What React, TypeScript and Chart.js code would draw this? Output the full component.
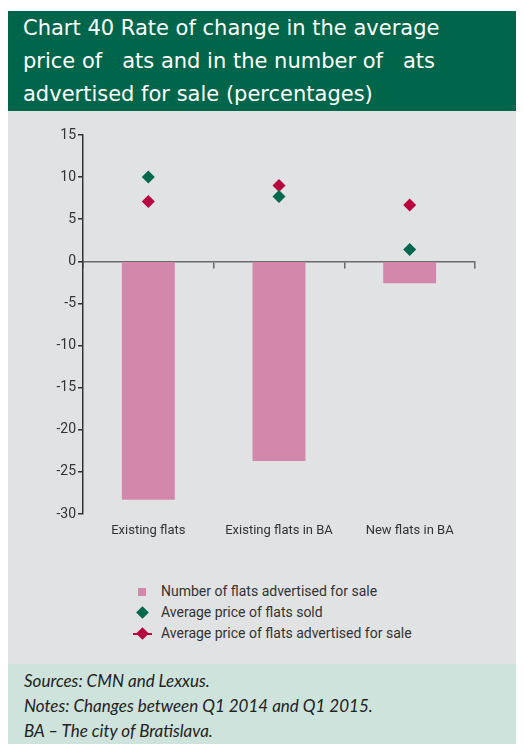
import React, { useEffect, useRef } from "react";
import { Chart, registerables } from "chart.js";

Chart.register(...registerables);

const categories = ["Existing flats", "Existing flats in BA", "New flats in BA"];
const flatsAdvertisedCount = [-28.3, -23.7, -2.6];
const avgPriceSold = [10.0, 7.7, 1.4];
const avgPriceAdvertised = [7.1, 9.0, 6.7];

const yMin = -30;
const yMax = 15;
const yStep = 5;

const titleLines = [
  "Chart 40 Rate of change in the average",
  "price of \u00a0 ats and in the number of \u00a0 ats",
  "advertised for sale (percentages)",
];
const footerLines = [
  "Sources: CMN and Lexxus.",
  "Notes: Changes between Q1 2014 and Q1 2015.",
  "BA \u2013 The city of Bratislava.",
];
const legendLabels = [
  "Number of flats advertised for sale",
  "Average price of flats sold",
  "Average price of flats advertised for sale",
];

const PINK = "#d388ab";
const GREEN = "#00684c";
const RED = "#b7053f";
const TEXT = "#333333";
const NARROW = "'Liberation Sans Narrow', 'Arial Narrow', 'Roboto', sans-serif";

export default function App() {
  const ref = useRef<HTMLCanvasElement>(null);

  useEffect(() => {
    if (!ref.current) return;
    const chart = new Chart(ref.current, {
      type: "bar",
      data: {
        labels: categories,
        datasets: [
          {
            type: "bar",
            label: legendLabels[0],
            data: flatsAdvertisedCount,
            backgroundColor: PINK,
            borderWidth: 0,
            barPercentage: 0.405,
            categoryPercentage: 1,
            order: 3,
          },
          {
            type: "line",
            label: legendLabels[1],
            data: avgPriceSold,
            showLine: false,
            pointStyle: "rectRot",
            pointRadius: 6.5,
            pointBackgroundColor: GREEN,
            pointBorderColor: GREEN,
            pointBorderWidth: 0,
            order: 1,
          } as any,
          {
            type: "line",
            label: legendLabels[2],
            data: avgPriceAdvertised,
            showLine: false,
            pointStyle: "rectRot",
            pointRadius: 6.5,
            pointBackgroundColor: RED,
            pointBorderColor: RED,
            pointBorderWidth: 0,
            order: 2,
          } as any,
        ],
      },
      options: {
        animation: false,
        responsive: true,
        maintainAspectRatio: false,
        layout: { padding: { left: 0, right: 49, top: 24, bottom: 0 } },
        plugins: { legend: { display: false }, tooltip: { enabled: false } },
        scales: {
          x: {
            type: "category",
            position: "bottom",
            offset: true,
            grid: { display: false, drawTicks: false },
            border: { display: false },
            ticks: {
              color: TEXT,
              font: { family: NARROW, size: 13 },
              padding: 9,
              maxRotation: 0,
            },
            afterFit: (s: any) => {
              s.height = 57;
            },
          },
          x2: {
            type: "category",
            position: { y: 0 } as any,
            offset: true,
            grid: {
              offset: true,
              drawOnChartArea: false,
              drawTicks: true,
              tickLength: 6,
              color: "#666666",
              lineWidth: 1.5,
            },
            border: { display: true, color: "#6a6a6a", width: 1.5 },
            ticks: { display: false },
          } as any,
          y: {
            min: yMin,
            max: yMax,
            grid: {
              drawOnChartArea: false,
              drawTicks: true,
              tickLength: 5,
              color: TEXT,
              lineWidth: 1.5,
            },
            border: { display: true, color: TEXT, width: 1.5 },
            ticks: {
              stepSize: yStep,
              color: TEXT,
              font: { family: NARROW, size: 14 },
              padding: 2,
            },
            afterFit: (s: any) => {
              s.width = 75;
            },
          },
        },
      },
    });
    return () => chart.destroy();
  }, []);

  return (
    <div style={{ width: 516, paddingTop: 3 }}>
      <div
        style={{
          background: "#00664b",
          height: 100,
          boxSizing: "border-box",
          paddingLeft: 15,
          paddingTop: 1,
          color: "#ffffff",
          fontFamily: "'DejaVu Sans', sans-serif",
          fontSize: 21,
          lineHeight: "33px",
          whiteSpace: "pre",
        }}
      >
        {titleLines.map((t, i) => (
          <div key={i}>{t}</div>
        ))}
      </div>
      <div style={{ background: "#e1e2e4", height: 553, position: "relative" }}>
        <div style={{ position: "relative", width: 516, height: 460 }}>
          <canvas ref={ref} />
        </div>
        <div
          style={{
            position: "absolute",
            left: 0,
            top: 470,
            fontFamily: NARROW,
            fontSize: 14,
            color: TEXT,
          }}
        >
          {legendLabels.map((t, i) => (
            <div
              key={i}
              style={{ position: "relative", height: 21, lineHeight: "21px", paddingLeft: 153 }}
            >
              {i === 2 && (
                <span
                  style={{
                    position: "absolute",
                    left: 125,
                    top: 10,
                    width: 19,
                    height: 1.5,
                    background: RED,
                  }}
                />
              )}
              <span
                style={{
                  position: "absolute",
                  left: 130,
                  top: i === 0 ? 6.5 : 6,
                  width: i === 0 ? 8 : 9,
                  height: i === 0 ? 8 : 9,
                  background: i === 0 ? PINK : i === 1 ? GREEN : RED,
                  transform: i === 0 ? "none" : "rotate(45deg)",
                }}
              />
              {t}
            </div>
          ))}
        </div>
      </div>
      <div
        style={{
          background: "#cde3dc",
          height: 80,
          boxSizing: "border-box",
          paddingLeft: 16,
          paddingTop: 4,
          fontFamily: "'Lato', sans-serif",
          fontStyle: "italic",
          fontSize: 17,
          lineHeight: "25px",
          color: "#222222",
        }}
      >
        {footerLines.map((t, i) => (
          <div key={i}>{t}</div>
        ))}
      </div>
    </div>
  );
}
